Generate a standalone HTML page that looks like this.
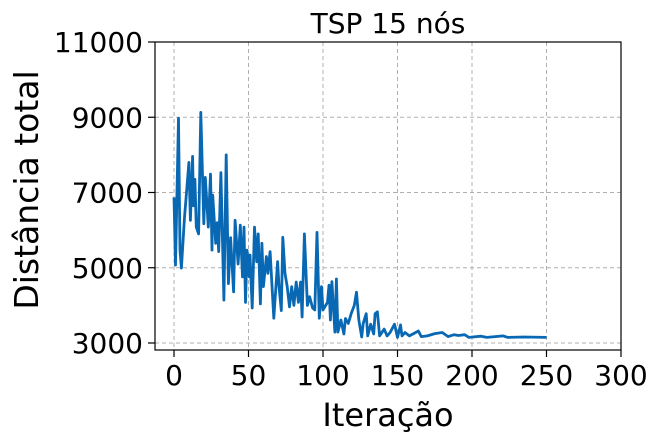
<!DOCTYPE html>
<html><head><meta charset="utf-8"><style>
body{margin:0;background:#fff;}
svg{display:block;font-family:"DejaVu Sans","Liberation Sans",sans-serif;}
</style></head><body>
<svg id="chart" width="659" height="442">
<g id="grid"></g>
<g id="series"></g>
<rect x="155" y="42" width="466" height="308" fill="none" stroke="#000" stroke-width="1.2"/>
<g id="axes"></g>
<text x="388" y="33" font-size="28" text-anchor="middle">TSP 15 nós</text>
<text x="388" y="426" font-size="32" text-anchor="middle">Iteração</text>
<text transform="translate(38,190) rotate(-90)" font-size="33" text-anchor="middle">Distância total</text>
</svg>
<script>
const xTicks=[0,50,100,150,200,250,300];
const yTicks=[3000,5000,7000,9000,11000];
const iterations=[0,1,3,4,5,7,10,11,12.5,13,14,15,16.5,18,20,21,23,24.5,25.5,26,28,29,30,31.5,33.5,35,36.5,38,40,41,43,44.5,46,47,48,49,50.5,51,52.5,54,55.5,56.5,58,59,60,62,63,64.5,67,69.5,70.5,72,73,74.5,76,77.5,79,80.5,82,83.5,85,86,87.5,89.5,91,93,94.5,96,97.5,99,100,103,104,105,106,108,109,110,112,114,115,117,119,121,122.5,124,126,127,129,130,132,134,135,136.5,138,141,143,145,148,150,152,153,155,158,164,166,170,175,180,184,188,191,195,198,206,210,221,224,235,250];
const distances=[6870,5070,8970,5470,4990,6300,7800,6260,7960,6650,7350,6080,5900,9130,6170,7400,6080,7490,5470,6930,5650,6200,5430,7530,4140,8000,4580,5800,4360,6260,5100,6130,4760,6080,4080,5470,4760,5340,3930,6080,5160,5900,4040,5650,4500,5300,4850,5430,3660,5160,4500,3860,5810,4850,4500,3960,4500,4000,4620,4080,4620,3690,5900,4000,4230,3930,3880,5940,3660,4500,3880,4080,4540,3610,4630,3290,4700,3290,3610,3240,3650,3520,3790,4000,4350,3620,3160,3520,3780,3190,3500,3240,3780,3830,3190,3370,3190,3280,3500,3150,3480,3190,3280,3190,3320,3170,3190,3250,3280,3170,3220,3200,3220,3150,3180,3150,3190,3150,3160,3150];
const NS="http://www.w3.org/2000/svg";
const xs=v=>174+(v/300)*(621-174);
const ys=v=>343-(v-3000)/8000*(343-42);
const grid=document.getElementById('grid'),axes=document.getElementById('axes'),series=document.getElementById('series');
function mk(t,a,p){const e=document.createElementNS(NS,t);for(const k in a)e.setAttribute(k,a[k]);p.appendChild(e);return e;}
xTicks.forEach(t=>{
 const x=xs(t);
 const g=mk('line',{x1:x,x2:x,y1:42,y2:350,stroke:'#b0b0b0','stroke-width':1,'stroke-dasharray':'4,3'},grid);
 
 
 const tk=mk('line',{x1:x,x2:x,y1:350,y2:357,stroke:'#000','stroke-width':1.2},axes);
 
 
 const l=mk('text',{x:x,y:385,'font-size':28,'text-anchor':'middle'},axes);l.textContent=t;
 
 
});
yTicks.forEach(t=>{
 const y=ys(t);
 const g=mk('line',{x1:155,x2:621,y1:y,y2:y,stroke:'#b0b0b0','stroke-width':1,'stroke-dasharray':'4,3'},grid);
 
 
 const tk=mk('line',{x1:148,x2:155,y1:y,y2:y,stroke:'#000','stroke-width':1.2},axes);
 
 
 const l=mk('text',{x:143,y:y+10,'font-size':28,'text-anchor':'end'},axes);l.textContent=t;
 
 
});
const pts=iterations.map((v,i)=>xs(v).toFixed(1)+','+ys(distances[i]).toFixed(1)).join(' ');
const pl=mk('polyline',{points:pts,fill:'none',stroke:'#0868b3','stroke-width':2.8,'stroke-linejoin':'round'},series);


</script>
</body></html>
